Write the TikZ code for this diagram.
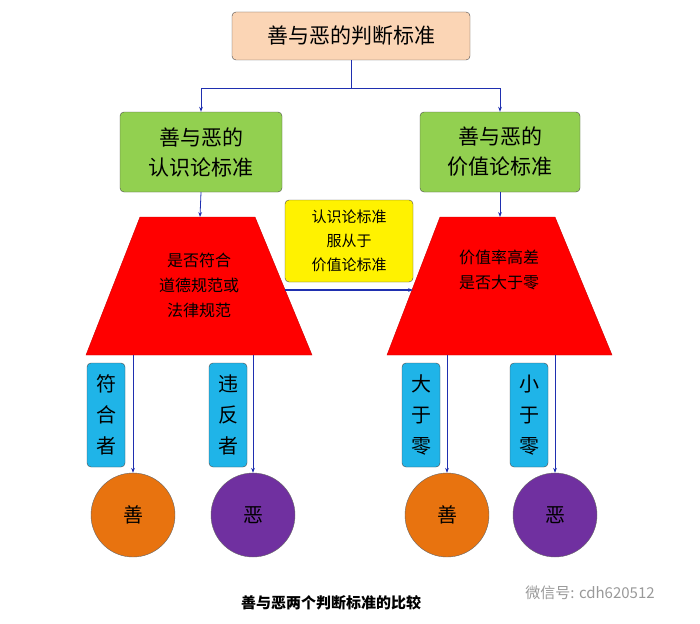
\documentclass[tikz,border=0pt]{standalone}
\usepackage{fontspec}
\setmainfont{Noto Sans CJK SC}
\usetikzlibrary{arrows.meta,positioning}
\definecolor{peach}{HTML}{FBD5B5}
\definecolor{leaf}{HTML}{92D050}
\definecolor{sky}{HTML}{1FB4E8}
\definecolor{tan}{HTML}{E8730F}
\definecolor{grape}{HTML}{7030A0}
\definecolor{navy}{HTML}{1F2FB0}
\begin{document}
\begin{tikzpicture}[x=1pt,y=-1pt,
  box/.style={draw=black!70,rounded corners=4pt,align=center,inner sep=0pt},
  conn/.style={navy,thick,-{Stealth[length=5pt]}},
  ball/.style={circle,draw=black!60,minimum size=84pt,inner sep=0pt,font=\fontsize{20}{22}\selectfont}]
\useasboundingbox (0,0) rectangle (700,623);
% title box
\node[box,fill=peach,minimum width=238pt,minimum height=48pt,font=\fontsize{21}{24}\selectfont] (top) at (351,36) {善与恶的判断标准};
\node[box,fill=leaf,minimum width=162pt,minimum height=80pt,font=\fontsize{21}{30}\selectfont] (epi) at (201,152) {善与恶的\\认识论标准};
\node[box,fill=leaf,minimum width=160pt,minimum height=80pt,font=\fontsize{21}{30}\selectfont] (val) at (500,152) {善与恶的\\价值论标准};
\coordinate (split) at (351,88);
\draw[navy,thick] (top.south) -- (split);
\draw[conn] (split) -| (epi.north);
\draw[conn] (split) -| (val.north);
% trapezoids
\draw[red!80!black,fill=red] (140,217) -- (255,217) -- (312,355) -- (86,355) -- cycle;
\draw[red!80!black,fill=red] (440,217) -- (555,217) -- (612,355) -- (387,355) -- cycle;
\coordinate (trapL) at (200,217);
\coordinate (trapR) at (500,217);
\draw[conn] (epi.south) -- (trapL);
\draw[conn] (val.south) -- (trapR);
\node[align=center,font=\fontsize{16}{25}\selectfont] (qL) at (199,285) {是否符合\\道德规范或\\法律规范};
\node[align=center,font=\fontsize{16}{25}\selectfont] (qR) at (499,270) {价值率高差\\是否大于零};
% middle box
\node[box,fill=yellow,minimum width=128pt,minimum height=82pt,font=\fontsize{15}{24}\selectfont] (mid) at (349,241) {认识论标准\\服从于\\价值论标准};
\coordinate (fromL) at (285,290);
\coordinate (toR) at (413,290);
\draw[conn,very thick] (fromL) -- (toR);
% labels
\foreach \n/\x/\t in {a/106/符\\合\\者,b/228/违\\反\\者,c/421/大\\于\\零,d/529/小\\于\\零}
  \node[box,fill=sky,minimum width=38pt,minimum height=104pt,font=\fontsize{20}{31}\selectfont] (lab\n) at (\x,415) {\t};
% circles
\node[ball,fill=tan] (g1) at (133,515) {善};
\node[ball,fill=grape] (e1) at (253,515) {恶};
\node[ball,fill=tan] (g2) at (447,515) {善};
\node[ball,fill=grape] (e2) at (555,515) {恶};
\foreach \c/\x in {g1/133,e1/253,g2/447,e2/555}{
  \coordinate (s\c) at (\x,355);
  \draw[conn,semithick] (s\c) -- (\c.north);
}
\node[font=\bfseries\fontsize{15}{18}\selectfont] (cap) at (331,603) {善与恶两个判断标准的比较};
\node[font=\fontsize{15}{18}\selectfont,text=black!40] (mark) at (590,593) {微信号: cdh620512};
\end{tikzpicture}
\end{document}
